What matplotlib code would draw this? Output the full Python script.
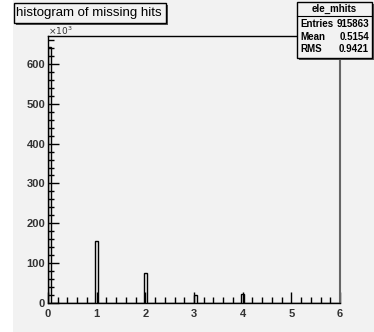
import numpy as np
import matplotlib
matplotlib.use('Agg')
import matplotlib.pyplot as plt
from matplotlib.patches import Rectangle
from matplotlib.ticker import MultipleLocator

# missing hits per electron, counts in units of 10^3
hits = [0, 1, 2, 3, 4]
counts = [643, 156.5, 74.6, 19.3, 22.6]
bin_edges = np.linspace(0, 6, 101)

title = 'histogram of missing hits'
stats_name = 'ele_mhits'
stats_rows = [('Entries', '915863'), ('Mean', '0.5154'), ('RMS', '0.9421')]

bg = '#f2f2f2'
font = ['Liberation Sans Narrow', 'Liberation Sans', 'DejaVu Sans']
plt.rcParams['font.family'] = font

W, H = 374, 332
fig = plt.figure(figsize=(W / 100, H / 100), dpi=100, facecolor=bg)
fig.patches.append(Rectangle((0, 0), 13 / W, 1, transform=fig.transFigure,
                             facecolor='white', edgecolor='none', zorder=-1))

ax = fig.add_axes([48 / W, 1 - 303 / H, (340 - 48) / W, (303 - 36) / H], facecolor=bg)
ax.hist(hits, bins=bin_edges, weights=counts, histtype='step', color='black', lw=1)
ax.set_xlim(0, 6)
ax.set_ylim(0, 670)

ax.xaxis.set_major_locator(MultipleLocator(1))
ax.xaxis.set_minor_locator(MultipleLocator(0.2))
ax.yaxis.set_major_locator(MultipleLocator(100))
ax.yaxis.set_minor_locator(MultipleLocator(20))
ax.tick_params(which='both', direction='in', width=1, color='black',
               labelsize=8, top=False, right=False)
ax.tick_params(which='major', length=8)
ax.tick_params(which='minor', length=4)
ax.tick_params(axis='x', pad=4)
ax.tick_params(axis='y', pad=2)
for lab in ax.get_xticklabels() + ax.get_yticklabels():
    lab.set_fontweight('bold')
    lab.set_color('#333333')

for s in ['left', 'bottom', 'top']:
    ax.spines[s].set_color('black')
    ax.spines[s].set_linewidth(1)
ax.spines['right'].set_color('#666666')
ax.spines['right'].set_linewidth(1.5)

fig.text(48 / W, 1 - 31 / H, r'$\times10^{3}$', fontsize=6.5, color='#333333',
         ha='left', va='center')

# title box with shadow
fig.patches.append(Rectangle((16 / W, 1 - 25 / H), 152 / W, 20 / H, transform=fig.transFigure,
                             facecolor='#555555', edgecolor='none', zorder=3))
fig.patches.append(Rectangle((14 / W, 1 - 23 / H), 152 / W, 20 / H, transform=fig.transFigure,
                             facecolor=bg, edgecolor='black', lw=1, zorder=4))
fig.text(89 / W, 1 - 13 / H, title, fontsize=9.5, ha='center', va='center', zorder=5)

# stats box
x0, x1, y0, y1 = 297 / W, 372 / W, 1 - 58 / H, 1 - 2 / H
fig.patches.append(Rectangle((x0 + 2 / W, y0 - 2 / H), x1 - x0, y1 - y0, transform=fig.transFigure,
                             facecolor='#555555', edgecolor='none', zorder=3))
fig.patches.append(Rectangle((x0, y0), x1 - x0, y1 - y0, transform=fig.transFigure,
                             facecolor=bg, edgecolor='black', lw=1, zorder=4))
fig.add_artist(plt.Line2D([x0, x1], [1 - 16 / H, 1 - 16 / H], transform=fig.transFigure,
                          color='black', lw=0.8, zorder=5))
fig.text((x0 + x1) / 2, 1 - 9 / H, stats_name, fontsize=7, fontweight='bold',
         ha='center', va='center', zorder=5)
for i, (k, v) in enumerate(stats_rows):
    yy = 1 - (24 + i * 12.5) / H
    fig.text(x0 + 3 / W, yy, k, fontsize=7, fontweight='bold', ha='left', va='center', zorder=5)
    fig.text(x1 - 3 / W, yy, v, fontsize=7, fontweight='bold', ha='right', va='center', zorder=5)

fig.savefig('out.png', dpi=100, facecolor=bg)
